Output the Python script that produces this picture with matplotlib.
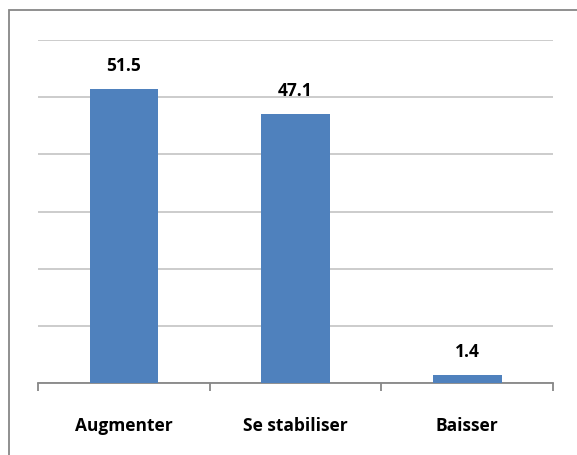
import numpy as np
from matplotlib import pyplot as plt
from matplotlib.patches import Rectangle

categories = ['Augmenter', 'Se stabiliser', 'Baisser']
values = [51.5, 47.1, 1.4]
value_labels = ['51.5', '47.1', '1.4']

fig = plt.figure(figsize=(5.77, 4.56), dpi=100)
fig.patch.set_facecolor('white')
# outer chart border (only left and top visible in the reference)
fig.patches.append(Rectangle((9/577, -0.1), 1.2, 1 - 11/456 + 0.1, transform=fig.transFigure,
                             fill=False, edgecolor='#878787', linewidth=1.3))

ax = fig.add_axes([38/577, 1 - 384/456, (553 - 38)/577, (384 - 41)/456])
x = np.arange(len(categories))
ax.bar(x, values, width=0.4, color='#4f81bd', zorder=3)
ax.set_xlim(-0.5, len(categories) - 0.5)
ax.set_ylim(0, 60)
ax.set_yticks(np.arange(0, 61, 10))
ax.yaxis.grid(True, color='#c8c8c8', linewidth=1.3)
ax.tick_params(axis='y', length=0, labelleft=False)
for s in ['top', 'right', 'left']:
    ax.spines[s].set_visible(False)
ax.spines['bottom'].set_color('#878787')
ax.spines['bottom'].set_linewidth(1.3)

ax.set_xticks(x)
ax.set_xticklabels(categories, fontsize=12.5, fontweight='bold', family='Open Sans')
ax.tick_params(axis='x', length=0, pad=24)
ax.set_xticks(np.arange(-0.5, len(categories), 1), minor=True)
ax.tick_params(axis='x', which='minor', length=6, color='#878787', width=1.3)

for xi, v, lab in zip(x, values, value_labels):
    ax.annotate(lab, (xi, v), xytext=(0, 24), textcoords='offset pixels',
                ha='center', va='center', fontsize=12.5, fontweight='bold', family='Open Sans')

fig.savefig('out.png', dpi=100)
